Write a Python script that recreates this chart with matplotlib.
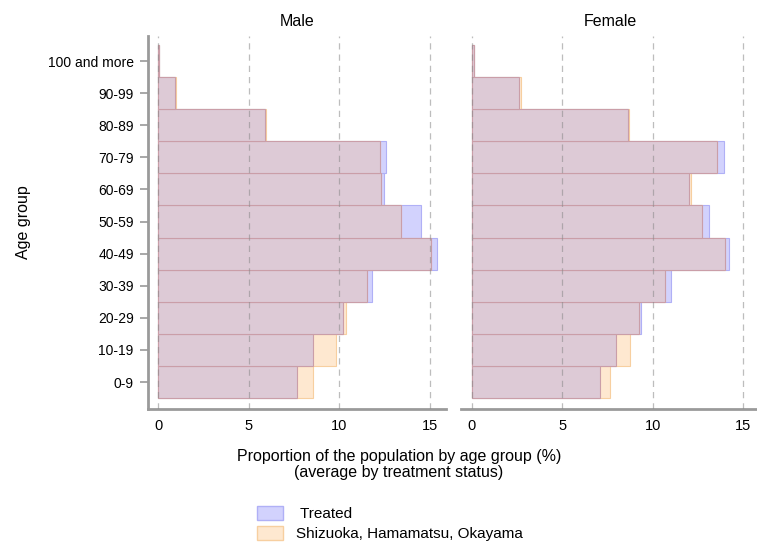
import numpy as np
import matplotlib.pyplot as plt
from matplotlib.patches import Patch

plt.rcParams['font.family'] = ['Liberation Sans', 'DejaVu Sans']

age_groups = ['0-9', '10-19', '20-29', '30-39', '40-49', '50-59',
              '60-69', '70-79', '80-89', '90-99', '100 and more']

# average share of population by age group (%)
male_treated = [7.66, 8.54, 10.20, 11.79, 15.39, 14.52, 12.45, 12.58, 5.90, 0.92, 0.05]
male_control = [8.52, 9.82, 10.35, 11.53, 15.07, 13.41, 12.31, 12.23, 5.93, 0.98, 0.05]
female_treated = [7.09, 7.96, 9.35, 10.99, 14.20, 13.09, 12.00, 13.96, 8.64, 2.61, 0.10]
female_control = [7.62, 8.73, 9.26, 10.66, 13.98, 12.71, 12.10, 13.54, 8.67, 2.71, 0.13]

legend_labels = [' Treated', 'Shizuoka, Hamamatsu, Okayama']
x_ticks = [0, 5, 10, 15]

BLUE_FACE, BLUE_EDGE = '#D2D2FD', '#B0B0F6'
ORANGE_FACE, ORANGE_EDGE = '#FEE8D0', '#F7CFA0'
BOTH_FACE, BOTH_EDGE = '#DDCAD6', '#CA9EA8'
SPINE = '#9A9A9A'


def draw_panel(ax, treated, control, title, show_y):
    y = np.arange(len(age_groups))
    treated = np.asarray(treated)
    control = np.asarray(control)
    ax.barh(y, treated, height=1.0, color=BLUE_FACE, edgecolor=BLUE_EDGE,
            linewidth=0.8, zorder=2)
    ax.barh(y, control, height=1.0, color=ORANGE_FACE, edgecolor=ORANGE_EDGE,
            linewidth=0.8, zorder=2)
    # overlapping part of the two distributions
    ax.barh(y, np.minimum(treated, control), height=1.0, color=BOTH_FACE,
            edgecolor=BOTH_EDGE, linewidth=0.8, zorder=3)

    for xv in x_ticks:
        ax.axvline(xv, color='#888888', alpha=0.55, linestyle=(0, (5, 4)),
                   linewidth=0.9, zorder=4)

    ax.set_xlim(-0.6, 15.9)
    ax.set_ylim(-0.84, 10.78)
    ax.set_xticks(x_ticks)
    ax.tick_params(axis='x', length=0, pad=7, labelsize=10.5)
    ax.set_title(title, fontsize=11.5, pad=7)

    for side in ['top', 'right']:
        ax.spines[side].set_visible(False)
    ax.spines['bottom'].set_color(SPINE)
    ax.spines['bottom'].set_linewidth(2)
    if show_y:
        ax.spines['left'].set_color(SPINE)
        ax.spines['left'].set_linewidth(2)
        ax.set_yticks(y)
        ax.set_yticklabels(age_groups)
        ax.tick_params(axis='y', length=6, width=1.2, color=SPINE,
                       pad=4, labelsize=10)
    else:
        ax.spines['left'].set_visible(False)
        ax.set_yticks([])


fig = plt.figure(figsize=(7.57, 5.44), dpi=100)
ax_m = fig.add_axes([0.1949, 0.2482, 0.3943, 0.6856])
ax_f = fig.add_axes([0.609, 0.2482, 0.3943, 0.6856])

draw_panel(ax_m, male_treated, male_control, 'Male', True)
draw_panel(ax_f, female_treated, female_control, 'Female', False)

ax_m.set_ylabel('Age group', fontsize=11.5, labelpad=12)
fig.text(0.527, 0.146, 'Proportion of the population by age group (%)\n(average by treatment status)',
         ha='center', va='center', fontsize=11.5, linespacing=1.15)

handles = [Patch(facecolor=BLUE_FACE, edgecolor=BLUE_EDGE),
           Patch(facecolor=ORANGE_FACE, edgecolor=ORANGE_EDGE)]
fig.legend(handles, legend_labels, loc='upper left', bbox_to_anchor=(0.34, 0.070),
           frameon=False, fontsize=11, handlelength=1.65, handleheight=1.0,
           handletextpad=0.85, labelspacing=0.35, borderaxespad=0, borderpad=0)

fig.savefig('out.png', dpi=100)
